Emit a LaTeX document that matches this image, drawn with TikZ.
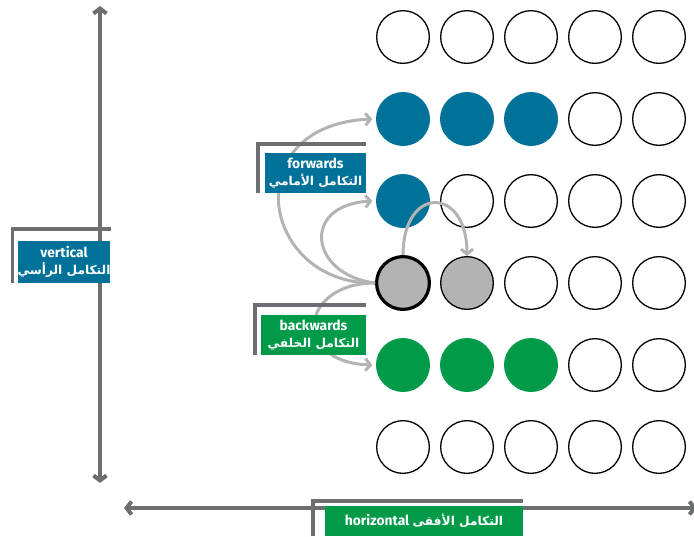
\documentclass[tikz,border=0pt]{standalone}
\usepackage{fontspec}
\setmainfont{Fira Sans}
\newfontfamily\arabicfont[Script=Arabic]{DejaVu Sans}
\TeXXeTstate=1
\usetikzlibrary{arrows.meta,calc}
\definecolor{fwdblue}{HTML}{00729A}
\definecolor{bwdgreen}{HTML}{009A49}
\definecolor{axisgray}{HTML}{6D6E71}
\definecolor{linkgray}{HTML}{B3B3B3}
\newcommand\artext[1]{{\arabicfont\fontsize{12.2}{17}\selectfont\beginR #1\endR}}

\tikzset{
  dot/.style={circle, draw=black, line width=1.3pt, fill=white,
              minimum size=52.7pt, inner sep=0pt},
  fwddot/.style={draw=none, fill=fwdblue, minimum size=54pt},
  bwddot/.style={draw=none, fill=bwdgreen, minimum size=54pt},
  curdot/.style={fill=linkgray, line width=3.2pt, minimum size=52.8pt},
  hordot/.style={fill=linkgray},
  cell 2-1/.style=fwddot, cell 2-2/.style=fwddot, cell 2-3/.style=fwddot,
  cell 3-1/.style=fwddot,
  cell 4-1/.style=curdot, cell 4-2/.style=hordot,
  cell 5-1/.style=bwddot, cell 5-2/.style=bwddot, cell 5-3/.style=bwddot,
  axisline/.style={draw=axisgray, line width=4pt,
     {Straight Barb[length=5pt,width=13pt]}-{Straight Barb[length=5pt,width=13pt]}},
  link/.style={draw=linkgray, line width=3pt,
     -{Straight Barb[length=5pt,width=12pt]}},
  tag/.style={fill=#1, text=white, font=\bfseries\fontsize{13.8}{17}\selectfont,
              align=center, inner sep=0pt},
  bracket/.style={draw=axisgray, line width=3.5pt},
}

\begin{document}
\begin{tikzpicture}[x=1pt, y=-1pt]
\useasboundingbox (0,0) rectangle (694,536);

% grid of cells
\foreach \r in {1,...,6}{
  \foreach \c in {1,...,5}{
    \node[dot, cell \r-\c/.try] (c\r\c) at ({403+64*(\c-1)},{37+82*(\r-1)}) {};
  }
}

% axes
\coordinate (vtop) at (100,6);
\coordinate (vbot) at (100,483);
\coordinate (hleft) at (124,508);
\coordinate (hright) at (697,508);
\draw[axisline] (vbot) -- (vtop);
\draw[axisline] (hleft) -- (hright);

% links from the current cell
\draw[link] (c41.west) .. controls (260,285) and (235,125) .. ([xshift=-3pt]c21.west);
\draw[link] (c41.west) .. controls (310,275) and (300,205) .. ([xshift=-3pt]c31.west);
\draw[link] (c41.west) .. controls (300,283) and (290,362) .. ([xshift=-3pt]c51.west);
\draw[link] (c41.north) .. controls +(0,-70) and +(0,-70) .. (c42.north);

% tags
\node[tag=fwdblue, minimum width=90pt, minimum height=42pt] (vtag) at (64,262)
  {vertical\\\artext{التكامل الرأسي}};
\draw[bracket] ([xshift=-5pt]vtag.south west) |- ([yshift=12pt]vtag.north east);

\node[tag=fwdblue, minimum width=101pt, minimum height=40pt] (fwdtag) at (315.5,173)
  {forwards\\\artext{التكامل الأمامي}};
\draw[bracket] ([xshift=-7pt]fwdtag.south west) |- ([yshift=9pt]fwdtag.north east);

\node[tag=bwdgreen, minimum width=105pt, minimum height=40pt] (bwdtag) at (313.5,335)
  {backwards\\\artext{التكامل الخلفي}};
\draw[bracket] ([xshift=-6pt]bwdtag.south west) |- ([yshift=10pt]bwdtag.north east);

\node[tag=bwdgreen, minimum width=198pt, minimum height=30pt] (htag) at (424,521)
  {horizontal \artext{التكامل الأفقى}};
\draw[bracket] ([xshift=-12pt]htag.south west) |- ([yshift=5pt]htag.north east);

\end{tikzpicture}
\end{document}
